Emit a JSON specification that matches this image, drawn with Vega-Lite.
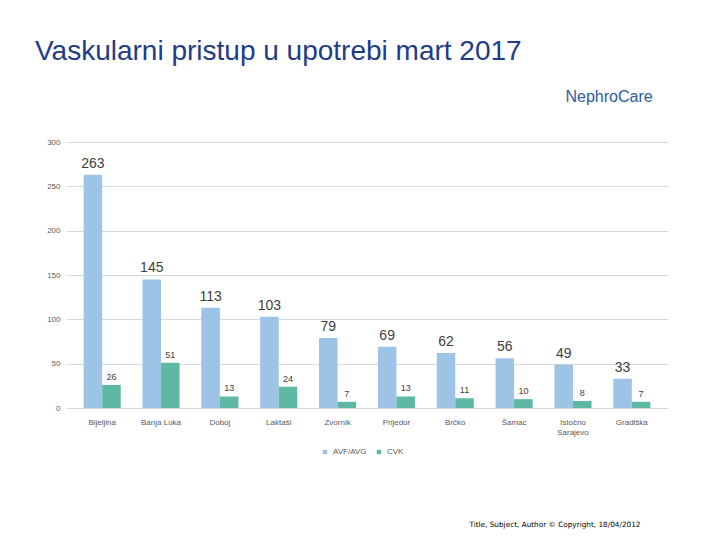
{
  "$schema": "https://vega.github.io/schema/vega-lite/v6.json",
  "width": 602,
  "height": 266,
  "autosize": {"type": "none"},
  "padding": {"left": 66, "top": 142, "right": 52, "bottom": 132},
  "background": "white",
  "title": {
    "text": "Vaskularni pristup u upotrebi mart 2017",
    "anchor": "start",
    "frame": "group",
    "dx": -31,
    "offset": 22,
    "font": "Liberation Sans",
    "fontSize": 28,
    "fontWeight": "normal",
    "color": "#1F3C88"
  },
  "config": {
    "view": {"stroke": null},
    "font": "Liberation Sans"
  },
  "data": {
    "values": [
      {"city": "Bijeljina", "series": "AVF/AVG", "value": 263},
      {"city": "Bijeljina", "series": "CVK", "value": 26},
      {"city": "Banja Luka", "series": "AVF/AVG", "value": 145},
      {"city": "Banja Luka", "series": "CVK", "value": 51},
      {"city": "Doboj", "series": "AVF/AVG", "value": 113},
      {"city": "Doboj", "series": "CVK", "value": 13},
      {"city": "Laktaši", "series": "AVF/AVG", "value": 103},
      {"city": "Laktaši", "series": "CVK", "value": 24},
      {"city": "Zvornik", "series": "AVF/AVG", "value": 79},
      {"city": "Zvornik", "series": "CVK", "value": 7},
      {"city": "Prijedor", "series": "AVF/AVG", "value": 69},
      {"city": "Prijedor", "series": "CVK", "value": 13},
      {"city": "Brčko", "series": "AVF/AVG", "value": 62},
      {"city": "Brčko", "series": "CVK", "value": 11},
      {"city": "Šamac", "series": "AVF/AVG", "value": 56},
      {"city": "Šamac", "series": "CVK", "value": 10},
      {"city": "Istočno Sarajevo", "series": "AVF/AVG", "value": 49},
      {"city": "Istočno Sarajevo", "series": "CVK", "value": 8},
      {"city": "Gradiška", "series": "AVF/AVG", "value": 33},
      {"city": "Gradiška", "series": "CVK", "value": 7}
    ]
  },
  "encoding": {
    "x": {
      "field": "city",
      "type": "nominal",
      "sort": null,
      "scale": {"paddingInner": 0.37, "paddingOuter": 0.3},
      "axis": {
        "labelAngle": 0,
        "labelFontSize": 8,
        "labelColor": "#595959",
        "labelPadding": 10,
        "ticks": false,
        "domain": false,
        "labelExpr": "datum.label == 'Istočno Sarajevo' ? ['Istočno', 'Sarajevo'] : datum.label",
        "title": "Title, Subject, Author © Copyright, 18/04/2012",
        "titleFont": "DejaVu Sans",
        "titleFontSize": 7.3,
        "titleFontWeight": "normal",
        "titleColor": "#000000",
        "titleAlign": "right",
        "titleAnchor": null,
        "titleBaseline": "top",
        "titleX": 574,
        "titleY": 112
      }
    },
    "xOffset": {"field": "series", "type": "nominal", "sort": ["AVF/AVG", "CVK"]},
    "y": {
      "field": "value",
      "type": "quantitative",
      "scale": {"domain": [0, 300], "nice": false},
      "axis": {
        "values": [0, 50, 100, 150, 200, 250, 300],
        "labelFontSize": 8,
        "labelColor": "#595959",
        "labelPadding": 6,
        "ticks": false,
        "domain": false,
        "gridColor": "#d9d9d9",
        "title": "NephroCare",
        "titleAngle": 0,
        "titleAlign": "left",
        "titleBaseline": "middle",
        "titleX": 499,
        "titleY": -46,
        "titleFontSize": 16,
        "titleFontWeight": "normal",
        "titleColor": "#2B5CA0"
      }
    }
  },
  "layer": [
    {
      "mark": {"type": "bar"},
      "encoding": {
        "color": {
          "field": "series",
          "type": "nominal",
          "sort": ["AVF/AVG", "CVK"],
          "scale": {"domain": ["AVF/AVG", "CVK"], "range": ["#9DC3E6", "#5FB8A4"]},
          "legend": {
            "title": null,
            "orient": "none",
            "direction": "horizontal",
            "legendX": 255,
            "legendY": 306,
            "symbolType": "square",
            "symbolSize": 20,
            "labelFontSize": 8,
            "labelColor": "#595959",
            "columnPadding": 8
          }
        }
      }
    },
    {
      "transform": [{"filter": "datum.series == 'AVF/AVG'"}],
      "mark": {"type": "text", "baseline": "alphabetic", "dy": -7, "fontSize": 14, "color": "#404040"},
      "encoding": {"text": {"field": "value", "type": "quantitative"}}
    },
    {
      "transform": [{"filter": "datum.series == 'CVK'"}],
      "mark": {"type": "text", "baseline": "alphabetic", "dy": -5, "fontSize": 9, "color": "#404040"},
      "encoding": {"text": {"field": "value", "type": "quantitative"}}
    }
  ]
}
